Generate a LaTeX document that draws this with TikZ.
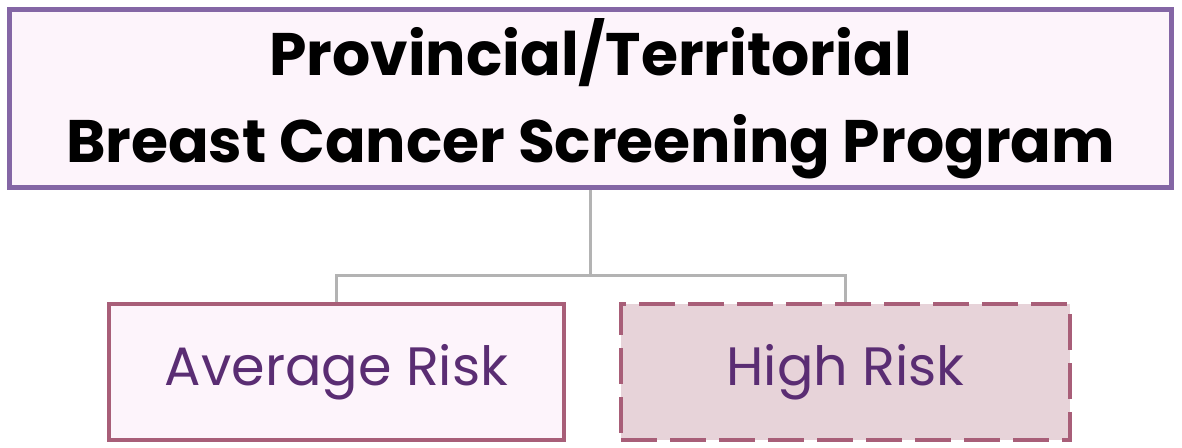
\documentclass[tikz,border=0pt]{standalone}
\usepackage{fontspec}
\setmainfont{Poppins}
\usepackage{xcolor}
\usetikzlibrary{calc}
\definecolor{progline}{HTML}{8466A5}
\definecolor{riskline}{HTML}{A85E78}
\definecolor{linkgrey}{HTML}{B3B3B3}
\definecolor{lightpink}{HTML}{FDF4FB}
\definecolor{highfill}{HTML}{E7D3D9}
\definecolor{risktext}{HTML}{5A2D73}

\begin{document}
\begin{tikzpicture}[x=1pt,y=-1pt,%
% common options for the program box:
progbox/.style = {draw=progline, fill=lightpink, line width=5pt, align=center,
            minimum width=1162pt, minimum height=178pt, inner sep=0,
            font=\bfseries\fontsize{60}{87}\selectfont},
% common options for the risk boxes:
riskbox/.style = {draw=riskline, fill=lightpink, line width=4pt, text=risktext,
            minimum width=455pt, minimum height=136pt, inner sep=0,
            font=\fontsize{54}{60}\selectfont},
link/.style = {draw=linkgrey, line width=3pt}]
\useasboundingbox (0,0) rectangle (1182,447);
\node[progbox] (P0) at (590.5,98.5) {Provincial/Territorial\\Breast Cancer Screening Program};
\node[riskbox] (A1) at (336.5,372) {Average Risk};
\node[riskbox,fill=highfill,dash pattern=on 36pt off 13pt,minimum width=449pt] (B1) at (845.5,372) {High Risk};
\coordinate (J0) at ($(P0.south)+(0,85)$);
\draw[link] (P0.south) -- (J0);
\draw[link] (A1.north) |- (J0) -| (B1.north);
\end{tikzpicture}
\end{document}
